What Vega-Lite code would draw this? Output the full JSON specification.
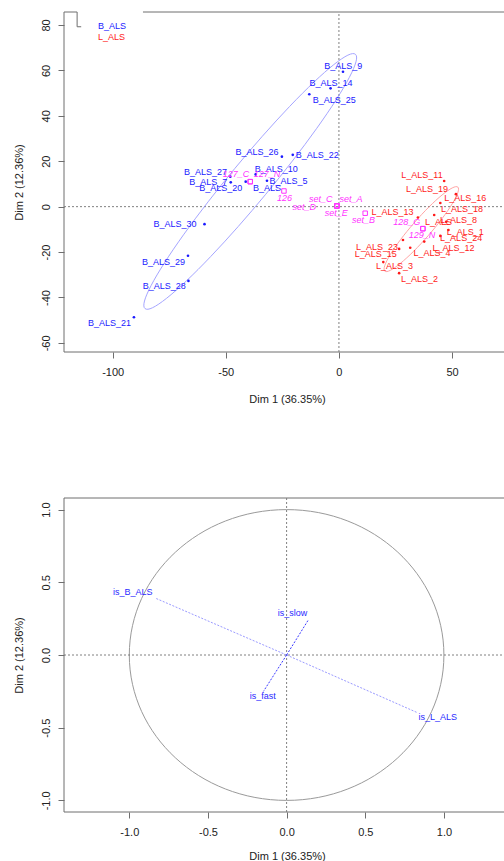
{
  "$schema": "https://vega.github.io/schema/vega-lite/v6.json",
  "autosize": {"type": "none"},
  "padding": {"left": 64, "top": 12, "right": 440, "bottom": 849},
  "background": "white",
  "bounds": "flush",
  "spacing": 146,
  "resolve": {"scale": {"color": "independent"}},
  "datasets": {
    "frameTop": [
      {"x": -121.5, "y": -64, "x2": -121.5, "y2": 85.7},
      {"x": -121.5, "y": -64, "x2": 75.6, "y2": -64},
      {"x": -121.5, "y": 85.7, "x2": -115.7, "y2": 85.7},
      {"x": -115.7, "y": 85.7, "x2": -115.7, "y2": 79.2},
      {"x": -115.7, "y": 79.2, "x2": -113.9, "y2": 79.2},
      {"x": -86.6, "y": 85.7, "x2": 75.6, "y2": 85.7},
      {"x": 75.6, "y": -64, "x2": 75.6, "y2": 85.7}
    ],
    "zeroTop": [
      {"x": 0, "y": -64, "x2": 0, "y2": 85.7},
      {"x": -121.5, "y": 0, "x2": 75.6, "y2": 0}
    ],
    "indB": [
      {"name": "B_ALS_9", "x": 1.8, "y": 59.4, "lx": 1.9, "ly": 62.0},
      {"name": "B_ALS_14", "x": -3.7, "y": 52.1, "lx": -3.5, "ly": 54.6},
      {"name": "B_ALS_25", "x": -13.1, "y": 49.5, "lx": -2.1, "ly": 47.0},
      {"name": "B_ALS_26", "x": -25.2, "y": 22.0, "lx": -36.2, "ly": 24.0},
      {"name": "B_ALS_22", "x": -20.4, "y": 22.8, "lx": -9.6, "ly": 22.8},
      {"name": "B_ALS_27", "x": -48.0, "y": 13.2, "lx": -59.0, "ly": 15.4},
      {"name": "B_ALS_7", "x": -47.8, "y": 10.7, "lx": -57.8, "ly": 10.7},
      {"name": "B_ALS_20", "x": -41.2, "y": 11.0, "lx": -52.2, "ly": 8.4},
      {"name": "B_ALS_10", "x": -36.8, "y": 14.2, "lx": -27.7, "ly": 16.6},
      {"name": "B_ALS_5", "x": -31.8, "y": 11.4, "lx": -22.3, "ly": 11.4},
      {"name": "B_ALS_30", "x": -59.4, "y": -7.7, "lx": -72.4, "ly": -7.7},
      {"name": "B_ALS_29", "x": -66.7, "y": -21.6, "lx": -77.5, "ly": -24.2},
      {"name": "B_ALS_28", "x": -66.5, "y": -32.7, "lx": -77.2, "ly": -34.9},
      {"name": "B_ALS_21", "x": -90.6, "y": -48.7, "lx": -101.4, "ly": -51.1}
    ],
    "indL": [
      {"name": "L_ALS_11", "x": 46.5, "y": 11.3, "lx": 36.7, "ly": 14.0},
      {"name": "L_ALS_19", "x": 51.7, "y": 5.5, "lx": 38.9, "ly": 7.7},
      {"name": "L_ALS_16", "x": 44.8, "y": 1.6, "lx": 55.8, "ly": 4.0},
      {"name": "L_ALS_18", "x": 42.1, "y": -3.7, "lx": 54.4, "ly": -1.1},
      {"name": "L_ALS_13", "x": 34.9, "y": -4.8, "lx": 23.7, "ly": -2.2},
      {"name": "L_ALS_8", "x": 47.4, "y": -6.7, "lx": 52.8, "ly": -5.9},
      {"name": "L_ALS_1", "x": 48.4, "y": -10.3, "lx": 55.8, "ly": -11.0},
      {"name": "L_ALS_24", "x": 44.8, "y": -12.9, "lx": 54.0, "ly": -14.0},
      {"name": "L_ALS_23", "x": 28.3, "y": -14.7, "lx": 16.8, "ly": -17.6},
      {"name": "L_ALS_12", "x": 37.7, "y": -15.4, "lx": 50.6, "ly": -18.1},
      {"name": "L_ALS_15", "x": 26.6, "y": -18.6, "lx": 16.3, "ly": -21.0},
      {"name": "L_ALS_4", "x": 31.5, "y": -18.1, "lx": 41.1, "ly": -20.5},
      {"name": "L_ALS_3", "x": 19.6, "y": -24.4, "lx": 24.6, "ly": -26.1},
      {"name": "L_ALS_2", "x": 26.6, "y": -29.3, "lx": 35.6, "ly": -31.8}
    ],
    "sup": [
      {"name": "127_C", "x": -39.2, "y": 11.0, "lx": -45.5, "ly": 14.3},
      {"name": "127_N", "x": -39.2, "y": 11.0, "lx": -31.8, "ly": 14.3},
      {"name": "126", "x": -24.3, "y": 6.9, "lx": -24.0, "ly": 4.0},
      {"name": "set_A", "x": -0.9, "y": 0.3, "lx": 5.3, "ly": 3.3},
      {"name": "set_C", "x": -0.9, "y": 0.3, "lx": -8.0, "ly": 3.3},
      {"name": "set_D", "x": -0.9, "y": 0.3, "lx": -15.3, "ly": 0.0},
      {"name": "set_E", "x": -0.9, "y": 0.3, "lx": -1.2, "ly": -2.6},
      {"name": "set_B", "x": 11.6, "y": -2.9, "lx": 10.9, "ly": -5.8},
      {"name": "128_G", "x": 37.1, "y": -9.7, "lx": 30.0, "ly": -6.9},
      {"name": "129_N", "x": 37.1, "y": -9.7, "lx": 36.7, "ly": -12.5}
    ],
    "centB": [{"name": "B_ALS", "x": -31.8, "y": 8.4}],
    "centL": [{"name": "L_ALS", "x": 44.0, "y": -6.6}],
    "legB": [{"name": "B_ALS", "x": -106.5, "y": 79.7}],
    "legL": [{"name": "L_ALS", "x": -106.5, "y": 74.7}],
    "frameBot": [
      {"x": -1.415, "y": -1.08, "x2": -1.415, "y2": 1.08},
      {"x": -1.415, "y": -1.08, "x2": 1.42, "y2": -1.08},
      {"x": -1.415, "y": 1.08, "x2": 1.42, "y2": 1.08},
      {"x": 1.42, "y": -1.08, "x2": 1.42, "y2": 1.08}
    ],
    "zeroBot": [
      {"x": 0, "y": -1.08, "x2": 0, "y2": 1.08},
      {"x": -1.415, "y": 0, "x2": 1.42, "y2": 0}
    ],
    "varsAct": [
      {"name": "is_B_ALS", "x0": 0, "y0": 0, "x": -0.836, "y": 0.392},
      {"name": "is_L_ALS", "x0": 0, "y0": 0, "x": 0.828, "y": -0.395}
    ],
    "varsSup": [
      {"name": "is_slow", "x0": 0, "y0": 0, "x": 0.139, "y": 0.243},
      {"name": "is_fast", "x0": 0, "y0": 0, "x": -0.147, "y": -0.25}
    ],
    "varLabels": [
      {"name": "is_B_ALS", "x": -0.978, "y": 0.434},
      {"name": "is_L_ALS", "x": 0.961, "y": -0.427},
      {"name": "is_slow", "x": 0.037, "y": 0.289},
      {"name": "is_fast", "x": -0.151, "y": -0.285}
    ]
  },
  "vconcat": [
    {
      "width": 446,
      "height": 340,
      "layer": [
        {
          "data": {"name": "frameTop"},
          "mark": {"type": "rule", "color": "#6e6e6e", "strokeWidth": 1},
          "encoding": {
            "x": {"field": "x", "type": "quantitative", "scale": {"domain": [-121.5, 75.6], "nice": false, "zero": false},
                  "axis": {"title": "Dim 1 (36.35%)", "values": [-100, -50, 0, 50], "titleY": 50.5, "labelExpr": "replace(datum.label, '\u2212', '-')"}},
            "x2": {"field": "x2"},
            "y": {"field": "y", "type": "quantitative", "scale": {"domain": [-64, 85.7], "nice": false, "zero": false},
                  "axis": {"title": "Dim 2 (12.36%)", "values": [-60, -40, -20, 0, 20, 40, 60, 80], "labelExpr": "replace(datum.label, '\u2212', '-')"}},
            "y2": {"field": "y2"}
          }
        },
        {
          "data": {"name": "zeroTop"},
          "mark": {"type": "rule", "color": "#808080", "strokeWidth": 1, "strokeDash": [2, 2]},
          "encoding": {
            "x": {"field": "x", "type": "quantitative"},
            "x2": {"field": "x2"},
            "y": {"field": "y", "type": "quantitative"},
            "y2": {"field": "y2"}
          }
        },
        {
          "data": {"values": [{"group": "B_ALS", "x": -39.2, "y": 11.1}]},
          "mark": {"type": "point", "filled": false, "size": 108900, "strokeWidth": 1, "color": "#8080ff",
                   "shape": "M0.6374,-0.7705A1,0.1212,-50.4,1,0,-0.6374,0.7705A1,0.1212,-50.4,1,0,0.6374,-0.7705Z"},
          "encoding": {
            "x": {"field": "x", "type": "quantitative"},
            "y": {"field": "y", "type": "quantitative"}
          }
        },
        {
          "data": {"values": [{"group": "L_ALS", "x": 36.4, "y": -9.9}]},
          "mark": {"type": "point", "filled": false, "size": 108900, "strokeWidth": 1, "color": "#ff8080",
                   "shape": "M0.2215,-0.2548A0.3376,0.0576,-49,1,0,-0.2215,0.2548A0.3376,0.0576,-49,1,0,0.2215,-0.2548Z"},
          "encoding": {
            "x": {"field": "x", "type": "quantitative"},
            "y": {"field": "y", "type": "quantitative"}
          }
        },
        {
          "data": {"name": "indB"},
          "mark": {"type": "point", "filled": true, "size": 7, "color": "#1a1aff", "opacity": 1},
          "encoding": {
            "x": {"field": "x", "type": "quantitative"},
            "y": {"field": "y", "type": "quantitative"}
          }
        },
        {
          "data": {"name": "indL"},
          "mark": {"type": "point", "filled": true, "size": 7, "color": "#ff1a1a", "opacity": 1},
          "encoding": {
            "x": {"field": "x", "type": "quantitative"},
            "y": {"field": "y", "type": "quantitative"}
          }
        },
        {
          "data": {"name": "sup"},
          "mark": {"type": "point", "shape": "square", "filled": false, "size": 20, "strokeWidth": 1, "color": "#ff33ff", "opacity": 1},
          "encoding": {
            "x": {"field": "x", "type": "quantitative"},
            "y": {"field": "y", "type": "quantitative"}
          }
        },
        {
          "data": {"name": "indB"},
          "mark": {"type": "text", "fontSize": 9, "font": "Liberation Sans", "color": "#1a1aff", "align": "center", "baseline": "middle"},
          "encoding": {
            "x": {"field": "lx", "type": "quantitative"},
            "y": {"field": "ly", "type": "quantitative"},
            "text": {"field": "name"}
          }
        },
        {
          "data": {"name": "indL"},
          "mark": {"type": "text", "fontSize": 9, "font": "Liberation Sans", "color": "#ff1a1a", "align": "center", "baseline": "middle"},
          "encoding": {
            "x": {"field": "lx", "type": "quantitative"},
            "y": {"field": "ly", "type": "quantitative"},
            "text": {"field": "name"}
          }
        },
        {
          "data": {"name": "sup"},
          "mark": {"type": "text", "fontSize": 9, "font": "Liberation Sans", "fontStyle": "italic", "color": "#ff33ff", "align": "center", "baseline": "middle"},
          "encoding": {
            "x": {"field": "lx", "type": "quantitative"},
            "y": {"field": "ly", "type": "quantitative"},
            "text": {"field": "name"}
          }
        },
        {
          "data": {"name": "centB"},
          "mark": {"type": "text", "fontSize": 9, "font": "Liberation Sans", "color": "#1a1aff", "align": "center", "baseline": "middle"},
          "encoding": {
            "x": {"field": "x", "type": "quantitative"},
            "y": {"field": "y", "type": "quantitative"},
            "text": {"field": "name"}
          }
        },
        {
          "data": {"name": "centL"},
          "mark": {"type": "text", "fontSize": 9, "font": "Liberation Sans", "color": "#ff1a1a", "align": "center", "baseline": "middle"},
          "encoding": {
            "x": {"field": "x", "type": "quantitative"},
            "y": {"field": "y", "type": "quantitative"},
            "text": {"field": "name"}
          }
        },
        {
          "data": {"name": "legB"},
          "mark": {"type": "text", "fontSize": 9, "font": "Liberation Sans", "color": "#1a1aff", "align": "left", "baseline": "middle"},
          "encoding": {
            "x": {"field": "x", "type": "quantitative"},
            "y": {"field": "y", "type": "quantitative"},
            "text": {"field": "name"}
          }
        },
        {
          "data": {"name": "legL"},
          "mark": {"type": "text", "fontSize": 9, "font": "Liberation Sans", "color": "#ff1a1a", "align": "left", "baseline": "middle"},
          "encoding": {
            "x": {"field": "x", "type": "quantitative"},
            "y": {"field": "y", "type": "quantitative"},
            "text": {"field": "name"}
          }
        }
      ]
    },
    {
      "width": 446,
      "height": 314,
      "layer": [
        {
          "data": {"name": "frameBot"},
          "mark": {"type": "rule", "color": "#6e6e6e", "strokeWidth": 1},
          "encoding": {
            "x": {"field": "x", "type": "quantitative", "scale": {"domain": [-1.415, 1.42], "nice": false, "zero": false},
                  "axis": {"title": "Dim 1 (36.35%)", "values": [-1, -0.5, 0, 0.5, 1], "format": ".1f", "titleY": 47.5, "labelExpr": "replace(datum.label, '\u2212', '-')"}},
            "x2": {"field": "x2"},
            "y": {"field": "y", "type": "quantitative", "scale": {"domain": [-1.08, 1.08], "nice": false, "zero": false},
                  "axis": {"title": "Dim 2 (12.36%)", "values": [-1, -0.5, 0, 0.5, 1], "format": ".1f", "labelExpr": "replace(datum.label, '\u2212', '-')"}},
            "y2": {"field": "y2"}
          }
        },
        {
          "data": {"name": "zeroBot"},
          "mark": {"type": "rule", "color": "#808080", "strokeWidth": 1, "strokeDash": [2, 2]},
          "encoding": {
            "x": {"field": "x", "type": "quantitative"},
            "x2": {"field": "x2"},
            "y": {"field": "y", "type": "quantitative"},
            "y2": {"field": "y2"}
          }
        },
        {
          "data": {"values": [{"x": 0, "y": 0}]},
          "mark": {"type": "point", "filled": false, "size": 98975, "strokeWidth": 1, "color": "#707070",
                   "shape": "M-1,0A1,0.9243,0,1,0,1,0A1,0.9243,0,1,0,-1,0Z"},
          "encoding": {
            "x": {"field": "x", "type": "quantitative"},
            "y": {"field": "y", "type": "quantitative"}
          }
        },
        {
          "data": {"name": "varsAct"},
          "mark": {"type": "rule", "strokeWidth": 1, "strokeDash": [2, 1.5], "color": "#9a9aff"},
          "encoding": {
            "x": {"field": "x0", "type": "quantitative"},
            "y": {"field": "y0", "type": "quantitative"},
            "x2": {"field": "x"},
            "y2": {"field": "y"}
          }
        },
        {
          "data": {"name": "varsSup"},
          "mark": {"type": "rule", "strokeWidth": 1, "strokeDash": [2, 1.5], "color": "#3a3aff"},
          "encoding": {
            "x": {"field": "x0", "type": "quantitative"},
            "y": {"field": "y0", "type": "quantitative"},
            "x2": {"field": "x"},
            "y2": {"field": "y"}
          }
        },
        {
          "data": {"name": "varLabels"},
          "mark": {"type": "text", "fontSize": 9, "font": "Liberation Sans", "color": "#2a2aff", "align": "center", "baseline": "middle"},
          "encoding": {
            "x": {"field": "x", "type": "quantitative"},
            "y": {"field": "y", "type": "quantitative"},
            "text": {"field": "name"}
          }
        }
      ]
    }
  ],
  "config": {
    "view": {"stroke": null},
    "font": "Liberation Sans",
    "axis": {
      "domain": false,
      "grid": false,
      "ticks": true,
      "tickColor": "#6e6e6e",
      "tickSize": 6,
      "labelFont": "Liberation Sans",
      "labelFontSize": 11,
      "labelColor": "#222222",
      "titleFont": "Liberation Sans",
      "titleFontSize": 11,
      "titleFontWeight": "normal",
      "titleColor": "#222222"
    },
    "axisX": {"labelPadding": 8.5, "titleBaseline": "alphabetic", "labelOverlap": false},
    "axisY": {"labelAngle": -90, "labelAlign": "center", "labelBaseline": "bottom", "labelPadding": 6.75, "titleX": -42, "titleBaseline": "alphabetic", "labelOverlap": false}
  }
}
